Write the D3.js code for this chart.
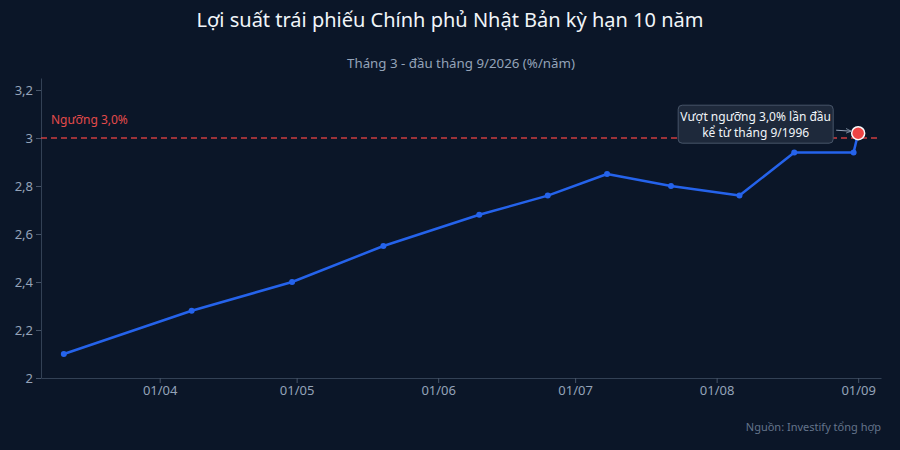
<!DOCTYPE html>
<html>
<head>
<meta charset="utf-8">
<script src="https://cdn.jsdelivr.net/npm/d3@7"></script>
<style>
  html, body { margin: 0; padding: 0; background: #0b1628; }
  svg { display: block; font-family: "Noto Sans", "Open Sans", sans-serif; }
</style>
</head>
<body>
<div id="chart"></div>
<script>
// ngày quan sát (2026) và lợi suất (%/năm)
let dates = ["2026-03-11","2026-04-08","2026-04-30","2026-05-20","2026-06-10","2026-06-25",
             "2026-07-08","2026-07-22","2026-08-06","2026-08-18","2026-08-31","2026-09-01"];
let yields = [2.10, 2.28, 2.40, 2.55, 2.68, 2.76, 2.85, 2.80, 2.76, 2.94, 2.94, 3.02];
let yTicks = [2, 2.2, 2.4, 2.6, 2.8, 3, 3.2];
let xTicks = ["2026-04-01","2026-05-01","2026-06-01","2026-07-01","2026-08-01","2026-09-01"];
let threshold = 3.0;

let width = 900, height = 450;
let margin = {top: 78, right: 19, bottom: 72, left: 41};

let parse = d3.timeParse("%Y-%m-%d");
let data = dates.map((d, i) => ({date: parse(d), value: yields[i]}));

let svg = d3.select("#chart").append("svg")
    .attr("width", width)
    .attr("height", height);

svg.append("rect")
    .attr("width", width)
    .attr("height", height)
    .attr("fill", "#0b1628");

let x = d3.scaleTime()
    .domain([d3.timeDay.offset(data[0].date, -5), d3.timeDay.offset(data[data.length - 1].date, 5)])
    .range([margin.left, width - margin.right]);

let y = d3.scaleLinear()
    .domain([2, 3.25])
    .range([height - margin.bottom, margin.top]);

// title
svg.append("text")
    .attr("x", width / 2)
    .attr("y", 27)
    .attr("text-anchor", "middle")
    .attr("fill", "#f1f5f9")
    .attr("font-size", 20)
    .text("Lợi suất trái phiếu Chính phủ Nhật Bản kỳ hạn 10 năm");

// subtitle căn giữa vùng vẽ
svg.append("text")
    .attr("x", (margin.left + width - margin.right) / 2)
    .attr("y", 68)
    .attr("text-anchor", "middle")
    .attr("fill", "#94a3b8")
    .attr("font-size", 13.3)
    .text("Tháng 3 - đầu tháng 9/2026 (%/năm)");

// axes
let xAxis = svg.append("g")
    .attr("transform", `translate(0,${height - margin.bottom})`)
    .call(d3.axisBottom(x)
        .tickValues(xTicks.map(parse))
        .tickFormat(d3.timeFormat("%d/%m"))
        .tickSize(5)
        .tickSizeOuter(0));

let yAxis = svg.append("g")
    .attr("transform", `translate(${margin.left},0)`)
    .call(d3.axisLeft(y)
        .tickValues(yTicks)
        .tickFormat(d => String(d).replace(".", ","))
        .tickSize(5)
        .tickSizeOuter(0));

[xAxis, yAxis].forEach(g => {
    g.select(".domain").attr("stroke", "#334155");
    g.selectAll(".tick line").attr("stroke", "#475569");
    g.selectAll(".tick text")
        .attr("fill", "#94a3b8")
        .attr("font-size", 13)
        .attr("font-family", "Noto Sans, sans-serif");
});

// threshold line
svg.append("line")
    .attr("x1", margin.left)
    .attr("x2", width - margin.right)
    .attr("y1", y(threshold))
    .attr("y2", y(threshold))
    .attr("stroke", "#ef4444")
    .attr("stroke-width", 1.5)
    .attr("stroke-dasharray", "6,4")
    .attr("opacity", 0.85);

svg.append("text")
    .attr("x", margin.left + 10)
    .attr("y", y(threshold) - 14)
    .attr("fill", "#e34b4b")
    .attr("font-size", 12)
    .text("Ngưỡng " + threshold.toFixed(1).replace(".", ",") + "%");

// line
let line = d3.line()
    .x(d => x(d.date))
    .y(d => y(d.value));

svg.append("path")
    .datum(data)
    .attr("d", line)
    .attr("fill", "none")
    .attr("stroke", "#2563eb")
    .attr("stroke-width", 2.5)
    .attr("stroke-linejoin", "round");

svg.selectAll(".dot")
    .data(data.slice(0, -1))
    .enter().append("circle")
    .attr("cx", d => x(d.date))
    .attr("cy", d => y(d.value))
    .attr("r", 3)
    .attr("fill", "#2563eb");

let last = data[data.length - 1];
svg.append("circle")
    .attr("cx", x(last.date))
    .attr("cy", y(last.value))
    .attr("r", 6.5)
    .attr("fill", "#ef4444")
    .attr("stroke", "#f8fafc")
    .attr("stroke-width", 1.5);

// annotation
let boxW = 155, boxH = 38;
let boxX = x(last.date) - 25 - boxW, boxY = y(last.value) - 28;

svg.append("defs").append("marker")
    .attr("id", "arrow")
    .attr("viewBox", "0 0 10 10")
    .attr("refX", 9).attr("refY", 5)
    .attr("markerWidth", 6).attr("markerHeight", 6)
    .attr("orient", "auto")
    .append("path")
    .attr("d", "M0,1 L9,5 L0,9")
    .attr("fill", "none")
    .attr("stroke", "#94a3b8")
    .attr("stroke-width", 1.2);

svg.append("line")
    .attr("x1", boxX + boxW + 3)
    .attr("y1", y(last.value) - 3)
    .attr("x2", x(last.date) - 7)
    .attr("y2", y(last.value) - 2)
    .attr("stroke", "#94a3b8")
    .attr("stroke-width", 1)
    .attr("marker-end", "url(#arrow)");

svg.append("rect")
    .attr("x", boxX)
    .attr("y", boxY)
    .attr("width", boxW)
    .attr("height", boxH)
    .attr("rx", 4)
    .attr("fill", "#1e293b")
    .attr("stroke", "#475569")
    .attr("stroke-width", 1);

svg.append("text")
    .attr("x", boxX + boxW / 2)
    .attr("y", boxY + 16)
    .attr("text-anchor", "middle")
    .attr("fill", "#f1f5f9")
    .attr("font-size", 12)
    .selectAll("tspan")
    .data(["Vượt ngưỡng 3,0% lần đầu", "kể từ tháng 9/1996"])
    .enter().append("tspan")
    .attr("x", boxX + boxW / 2)
    .attr("dy", (d, i) => i ? 16 : 0)
    .text(d => d);

// source
svg.append("text")
    .attr("x", width - margin.right)
    .attr("y", 431)
    .attr("text-anchor", "end")
    .attr("fill", "#64748b")
    .attr("font-size", 11)
    .text("Nguồn: Investify tổng hợp");
</script>
</body>
</html>
